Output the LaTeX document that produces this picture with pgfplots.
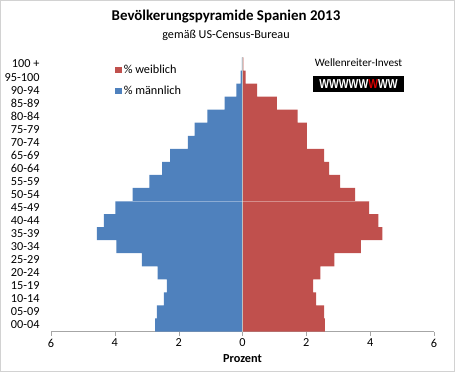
\documentclass[border=0pt]{standalone}
\usepackage{pgfplots}
\pgfplotsset{compat=1.18}
\usepackage{fontspec}
\setmainfont{Carlito}
\newfontfamily\arialfont{Liberation Sans}
\definecolor{fem}{HTML}{C0504D}
\definecolor{mal}{HTML}{4F81BD}
\begin{document}
\begin{tikzpicture}[x=1bp,y=1bp]
\draw[gray!35,line width=0.8bp] (0.4,0.4) rectangle (454.6,371.6);
\node[font=\bfseries\fontsize{15}{17}\selectfont] at (226,355) {Bevölkerungspyramide Spanien 2013};
\node[font=\fontsize{12.2}{14}\selectfont] at (226,337) {gemäß US-Census-Bureau};
\begin{axis}[
  at={(51bp,40.5bp)}, anchor=south west,
  scale only axis, width=383bp, height=274bp,
  xmin=-6, xmax=6, ymin=-0.5, ymax=20.5,
  xtick={-6,-4,-2,0,2,4,6},
  xticklabels={6,4,2,0,2,4,6},
  ytick={0,...,20},
  yticklabels={00-04,05-09,10-14,15-19,20-24,25-29,30-34,35-39,40-44,45-49,50-54,55-59,60-64,65-69,70-74,75-79,80-84,85-89,90-94,95-100,100 +},
  axis x line*=bottom,
  axis y line*=left,
  y axis line style={draw=none},
  ytick style={draw=none},
  x axis line style={draw=gray!70,-},
  xtick style={draw=gray!70},
  tick align=outside,
  major tick length=4bp,
  tick label style={font=\fontsize{12.3}{14}\selectfont},
  yticklabel style={xshift=-4bp},
  xlabel={\textbf{Prozent}},
  xlabel style={font=\fontsize{12.3}{14}\selectfont, yshift=0bp},
  /pgf/number format/assume math mode=true,
  xbar, bar width=1, bar shift=0pt,
  legend style={at={(0.166,0.982)}, anchor=north west, draw=none, fill=none,
    font=\fontsize{12.3}{14}\selectfont, row sep=7bp, inner sep=0pt},
  legend cell align=left,
  area legend,
  legend image code/.code={\fill[#1] (0bp,-3bp) rectangle (7bp,3bp);},
]
\addplot[fill=fem, draw=none] coordinates {
(2.58,0) (2.56,1) (2.31,2) (2.21,3) (2.44,4) (2.88,5) (3.71,6) (4.38,7) (4.26,8) (3.97,9)
(3.53,10) (3.06,11) (2.71,12) (2.56,13) (2.02,14) (2.02,15) (1.73,16) (1.08,17) (0.46,18) (0.10,19) (0.03,20)};
\addlegendentry{\% weiblich}
\addplot[fill=mal, draw=none] coordinates {
(-2.74,0) (-2.68,1) (-2.46,2) (-2.37,3) (-2.66,4) (-3.15,5) (-3.95,6) (-4.56,7) (-4.34,8) (-3.98,9)
(-3.44,10) (-2.92,11) (-2.52,12) (-2.27,13) (-1.71,14) (-1.50,15) (-1.10,16) (-0.56,17) (-0.19,18) (-0.06,19) (-0.02,20)};
\addlegendentry{\% männlich}
\draw[gray!50, line width=0.6bp] (axis cs:0,-0.5) -- (axis cs:0,20.5);
\draw[white, opacity=0.35, line width=0.7bp] (axis cs:-3.98,9.5) -- (axis cs:3.97,9.5);
\end{axis}
\node[font=\fontsize{11.3}{12}\selectfont] at (358.5,309) {Wellenreiter-Invest};
\fill[black] (313,280) rectangle (404,296);
\node[font=\arialfont\bfseries\fontsize{13}{13}\selectfont, inner sep=0pt, xscale=0.8] at (358.5,288) {\textcolor{white}{WWWWW}\textcolor{red!85!black}{W}\textcolor{white}{WW}};
\end{tikzpicture}
\end{document}
